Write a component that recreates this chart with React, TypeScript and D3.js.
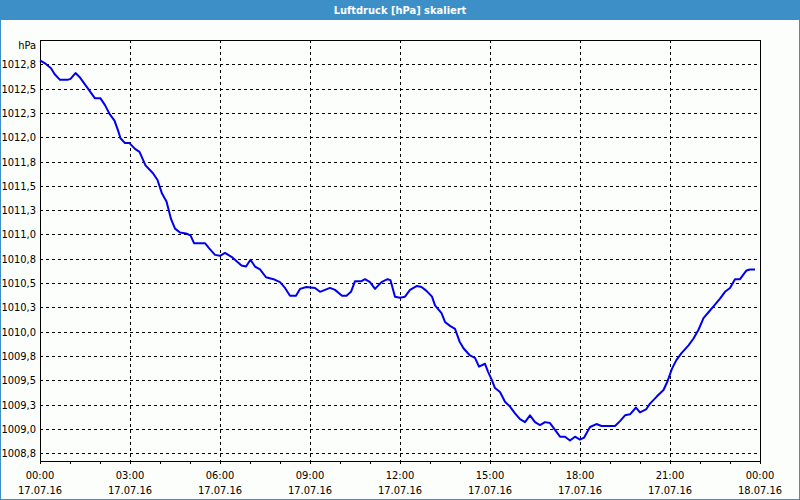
import React from "react";
import * as d3 from "d3";

const TITLE = "Luftdruck [hPa] skaliert";
const UNIT = "hPa";

// minutes after 00:00 on 17.07.16
const minutes = [
  0, 10, 22, 29, 40, 55, 61, 71, 79, 96, 110, 121, 130, 139, 149, 156, 161, 170, 179,
  190, 199, 211, 226, 235, 244, 253, 262, 270, 280, 292, 301, 308, 330, 338, 350, 360,
  370, 383, 403, 412, 421, 430, 440, 452, 467, 480, 490, 500, 512, 520, 533, 550, 560,
  580, 590, 604, 613, 622, 630, 643, 650, 660, 670, 683, 695, 701, 710, 720, 730, 740,
  754, 763, 773, 784, 790, 803, 810, 820, 830, 839, 847, 859, 870, 878, 890, 896, 904,
  910, 920, 930, 940, 950, 960, 970, 980, 990, 1000, 1010, 1020, 1030, 1040, 1050, 1060,
  1070, 1080, 1088, 1100, 1113, 1123, 1150, 1160, 1170, 1180, 1192, 1200, 1212, 1220,
  1233, 1247, 1255, 1264, 1273, 1283, 1297, 1307, 1317, 1327, 1337, 1347, 1360, 1370,
  1380, 1390, 1400, 1413, 1420, 1430,
];

const pressure = [
  1012.79, 1012.76, 1012.71, 1012.65, 1012.59, 1012.59, 1012.6, 1012.66, 1012.62, 1012.5,
  1012.4, 1012.4, 1012.33, 1012.24, 1012.17, 1012.07, 1011.99, 1011.94, 1011.94, 1011.88,
  1011.85, 1011.71, 1011.63, 1011.56, 1011.42, 1011.34, 1011.16, 1011.06, 1011.02, 1011.01,
  1010.99, 1010.91, 1010.91, 1010.86, 1010.79, 1010.78, 1010.81, 1010.77, 1010.68, 1010.67,
  1010.74, 1010.67, 1010.64, 1010.56, 1010.54, 1010.51, 1010.45, 1010.37, 1010.37, 1010.44,
  1010.46, 1010.45, 1010.41, 1010.45, 1010.43, 1010.37, 1010.37, 1010.41, 1010.52, 1010.52,
  1010.54, 1010.51, 1010.44, 1010.51, 1010.54, 1010.53, 1010.36, 1010.35, 1010.36, 1010.43,
  1010.47, 1010.46, 1010.42, 1010.36, 1010.27, 1010.19, 1010.1, 1010.06, 1010.03, 1009.9,
  1009.83, 1009.76, 1009.73, 1009.64, 1009.67, 1009.59, 1009.5, 1009.42, 1009.38, 1009.28,
  1009.23, 1009.16, 1009.1, 1009.07, 1009.14, 1009.07, 1009.04, 1009.07, 1009.06, 1008.99,
  1008.92, 1008.92, 1008.88, 1008.92, 1008.89, 1008.91, 1009.02, 1009.05, 1009.03, 1009.03,
  1009.08, 1009.14, 1009.15, 1009.22, 1009.17, 1009.2, 1009.26, 1009.33, 1009.4, 1009.49,
  1009.62, 1009.71, 1009.78, 1009.86, 1009.93, 1010.02, 1010.14, 1010.2, 1010.26, 1010.34,
  1010.41, 1010.45, 1010.54, 1010.54, 1010.63, 1010.64, 1010.64,
];

const yTicks = [
  1012.75, 1012.5, 1012.25, 1012.0, 1011.75, 1011.5, 1011.25, 1011.0, 1010.75, 1010.5,
  1010.25, 1010.0, 1009.75, 1009.5, 1009.25, 1009.0, 1008.75,
];
const yTickLabels = [
  "1012,8", "1012,5", "1012,3", "1012,0", "1011,8", "1011,5", "1011,3", "1011,0", "1010,8",
  "1010,5", "1010,3", "1010,0", "1009,8", "1009,5", "1009,3", "1009,0", "1008,8",
];

const xTicks = [0, 180, 360, 540, 720, 900, 1080, 1260, 1440];
const xTickTimes = ["00:00", "03:00", "06:00", "09:00", "12:00", "15:00", "18:00", "21:00", "00:00"];
const xTickDates = [
  "17.07.16", "17.07.16", "17.07.16", "17.07.16", "17.07.16", "17.07.16", "17.07.16",
  "17.07.16", "18.07.16",
];
const minorTicks = d3.range(0, 1441, 60);

const W = 800;
const H = 500;
const L = 40;
const R = 760;
const T = 40;
const B = 461;
const FONT = "'DejaVu Sans Condensed', 'DejaVu Sans', sans-serif";

export default function App() {
  const x = d3.scaleLinear().domain([0, 1440]).range([L, R]);
  const y = d3.scaleLinear().domain([1008.67, 1013.0]).range([B, T]);
  const line = d3
    .line<number>()
    .x((_, i) => x(minutes[i]))
    .y((d) => y(d));

  return (
    <div style={{ position: "fixed", left: 0, top: 0 }}>
      <svg width={W} height={H} style={{ display: "block" }}>
        <rect x={0} y={0} width={W} height={H} fill="#3d8fc7" />
        <rect x={1} y={20} width={W - 2} height={H - 21} fill="#fcfefc" />
        <text
          x={W / 2}
          y={14}
          textAnchor="middle"
          fill="#ffffff"
          fontFamily={FONT}
          fontWeight="bold"
          fontSize={11}
        >
          {TITLE}
        </text>

        {/* horizontal grid */}
        {yTicks.map((t, i) => (
          <g key={"y" + i}>
            <line
              x1={L}
              x2={R}
              y1={Math.round(y(t)) + 0.5}
              y2={Math.round(y(t)) + 0.5}
              stroke="#000"
              strokeDasharray="3,3"
              shapeRendering="crispEdges"
            />
            <text
              x={36}
              y={Math.round(y(t)) + 4}
              textAnchor="end"
              fontFamily={FONT}
              fontSize={11}
              fill="#000"
            >
              {yTickLabels[i]}
            </text>
          </g>
        ))}
        <text x={36} y={49} textAnchor="end" fontFamily={FONT} fontSize={11} fill="#000">
          {UNIT}
        </text>

        {/* vertical grid */}
        {xTicks.slice(1, -1).map((t, i) => (
          <line
            key={"x" + i}
            x1={Math.round(x(t)) + 0.5}
            x2={Math.round(x(t)) + 0.5}
            y1={T}
            y2={B}
            stroke="#000"
            strokeDasharray="3,3"
            shapeRendering="crispEdges"
          />
        ))}

        {/* minor ticks */}
        {minorTicks.map((t, i) => (
          <line
            key={"m" + i}
            x1={Math.round(x(t)) + 0.5}
            x2={Math.round(x(t)) + 0.5}
            y1={B}
            y2={B + 3}
            stroke="#000"
            shapeRendering="crispEdges"
          />
        ))}

        {/* frame */}
        <rect
          x={L + 0.5}
          y={T + 0.5}
          width={R - L}
          height={B - T}
          fill="none"
          stroke="#000"
          shapeRendering="crispEdges"
        />

        {/* x labels */}
        {xTicks.map((t, i) => (
          <g key={"xl" + i}>
            <text x={x(t)} y={479} textAnchor="middle" fontFamily={FONT} fontSize={11} fill="#000">
              {xTickTimes[i]}
            </text>
            <text x={x(t)} y={494} textAnchor="middle" fontFamily={FONT} fontSize={11} fill="#000">
              {xTickDates[i]}
            </text>
          </g>
        ))}

        <path
          d={line(pressure) || ""}
          fill="none"
          stroke="#0000ee"
          strokeWidth={2}
          strokeLinejoin="round"
        />
      </svg>
    </div>
  );
}
